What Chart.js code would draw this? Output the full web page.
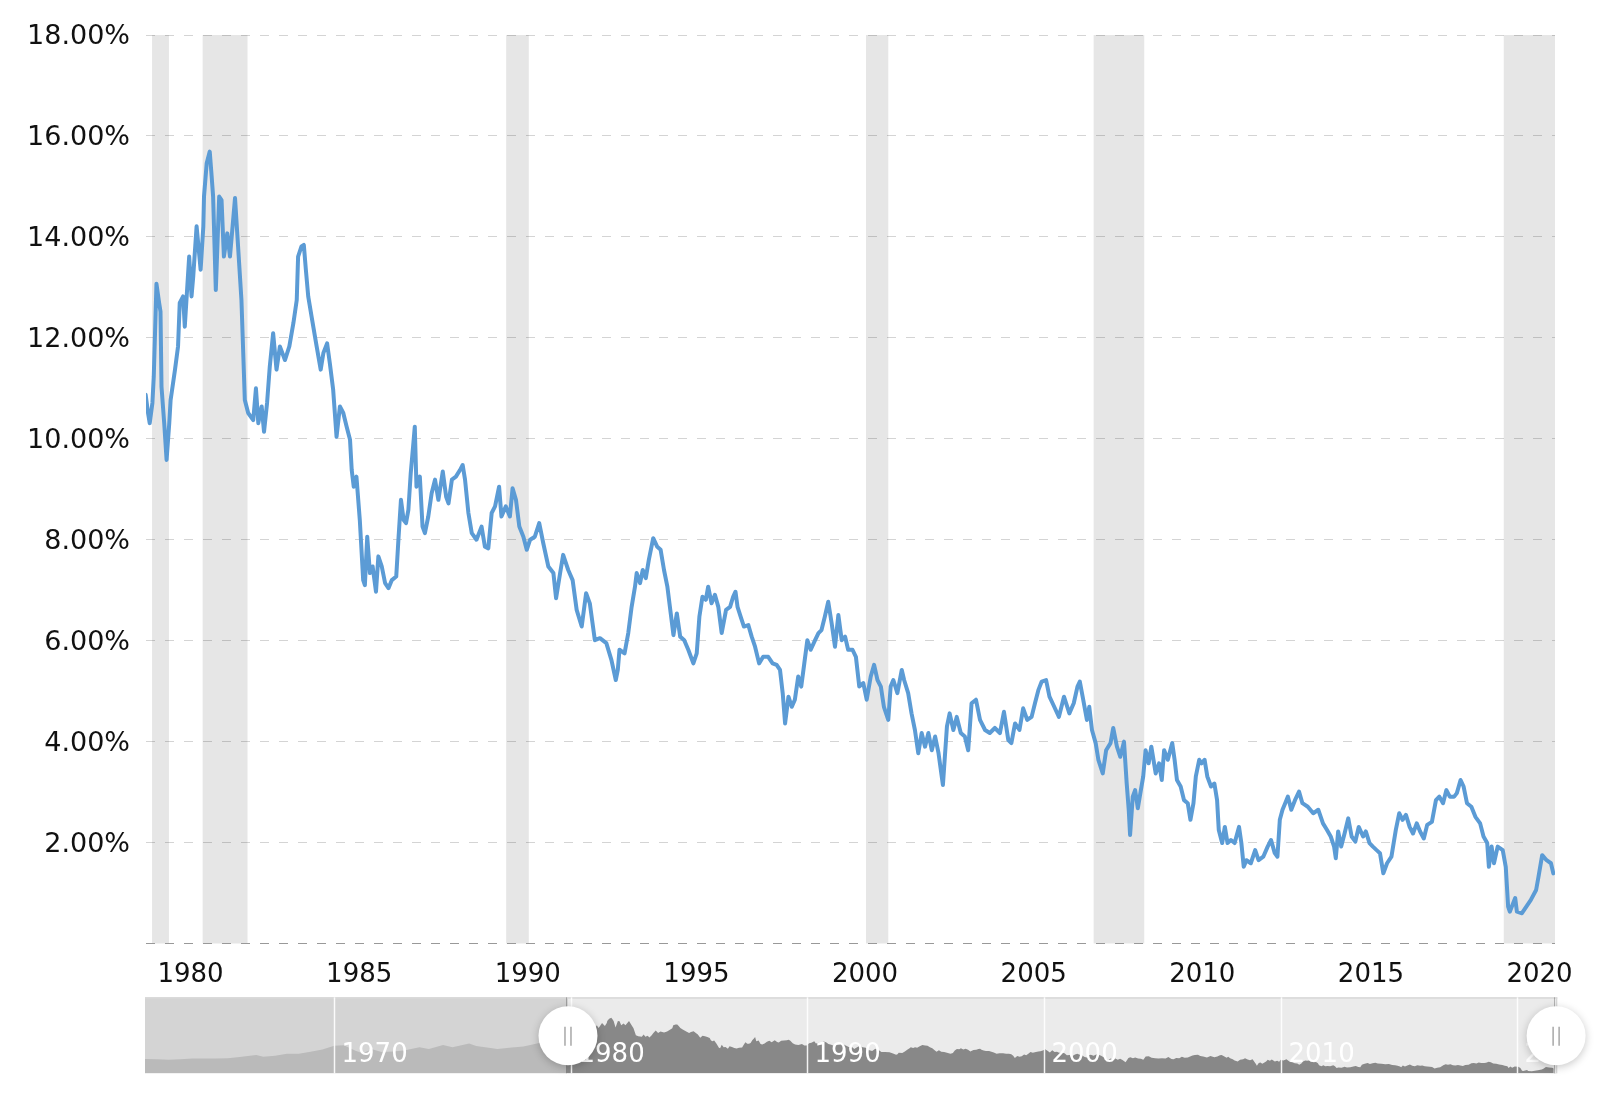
<!DOCTYPE html>
<html>
<head>
<meta charset="utf-8">
<title>10 Year Treasury Rate</title>
<script src="https://cdn.jsdelivr.net/npm/chart.js@4.4.1/dist/chart.umd.min.js"></script>
<style>
  html, body { margin: 0; padding: 0; background: #fff; }
  #wrap { position: relative; width: 1600px; height: 1093px; overflow: hidden; }
  #mainChart { position: absolute; left: 0; top: 0; }
  #navChart { position: absolute; left: 0; top: 990px; }
</style>
</head>
<body>
<div id="wrap">
  <canvas id="mainChart" width="1600" height="995"></canvas>
  <canvas id="navChart" width="1600" height="103"></canvas>
</div>
<script>
// 10 year treasury yield (%), x in decimal years
var dates = [
  1979.81, 1979.88, 1979.93, 1980.01, 1980.05, 1980.13, 1980.21, 1980.25, 1980.28, 1980.36, 1980.43, 1980.51,
  1980.55, 1980.68, 1980.77, 1980.82, 1980.92, 1980.97, 1981.10, 1981.17, 1981.22, 1981.32, 1981.44, 1981.52,
  1981.54, 1981.62, 1981.71, 1981.76, 1981.81, 1981.89, 1981.99, 1982.06, 1982.13, 1982.23, 1982.31, 1982.46,
  1982.55, 1982.65, 1982.75, 1982.85, 1983.00, 1983.08, 1983.15, 1983.25, 1983.32, 1983.41, 1983.49, 1983.59,
  1983.69, 1983.79, 1983.94, 1984.07, 1984.19, 1984.29, 1984.33, 1984.43, 1984.50, 1984.56, 1984.63, 1984.73,
  1984.88, 1985.00, 1985.08, 1985.19, 1985.27, 1985.37, 1985.47, 1985.57, 1985.67, 1985.77, 1985.87, 1985.92,
  1985.98, 1986.06, 1986.16, 1986.26, 1986.31, 1986.38, 1986.46, 1986.54, 1986.64, 1986.71, 1986.81, 1986.91,
  1987.01, 1987.11, 1987.24, 1987.31, 1987.38, 1987.46, 1987.53, 1987.60, 1987.67, 1987.74, 1987.79, 1987.84,
  1987.94, 1988.02, 1988.09, 1988.19, 1988.29, 1988.39, 1988.49, 1988.62, 1988.72, 1988.79, 1988.89, 1989.01,
  1989.13, 1989.21, 1989.28, 1989.38, 1989.48, 1989.62, 1989.77, 1989.87, 1989.97, 1990.07, 1990.17, 1990.29,
  1990.36, 1990.49, 1990.61, 1990.69, 1990.79, 1990.89, 1991.01, 1991.11, 1991.21, 1991.35, 1991.48, 1991.60,
  1991.75, 1991.90, 1991.98, 1992.10, 1992.19, 1992.34, 1992.47, 1992.59, 1992.74, 1992.87, 1992.98, 1993.13,
  1993.28, 1993.47, 1993.62, 1993.75, 1993.81, 1993.86, 1994.01, 1994.12, 1994.22, 1994.32, 1994.37, 1994.47,
  1994.55, 1994.64, 1994.73, 1994.86, 1994.98, 1995.08, 1995.18, 1995.28, 1995.38, 1995.46, 1995.56, 1995.66,
  1995.78, 1995.90, 1996.05, 1996.15, 1996.23, 1996.32, 1996.42, 1996.49, 1996.59, 1996.69, 1996.79, 1996.89,
  1997.02, 1997.14, 1997.23, 1997.30, 1997.36, 1997.45, 1997.55, 1997.68, 1997.78, 1997.88, 1998.00, 1998.12,
  1998.27, 1998.40, 1998.52, 1998.62, 1998.70, 1998.77, 1998.87, 1998.97, 1999.06, 1999.16, 1999.25, 1999.34,
  1999.43, 1999.53, 1999.66, 1999.76, 1999.85, 1999.95, 2000.05, 2000.15, 2000.25, 2000.35, 2000.45, 2000.55,
  2000.64, 2000.77, 2000.87, 2000.97, 2001.09, 2001.19, 2001.31, 2001.41, 2001.51, 2001.61, 2001.70, 2001.83,
  2001.90, 2001.98, 2002.10, 2002.23, 2002.30, 2002.42, 2002.52, 2002.62, 2002.72, 2002.82, 2002.92, 2003.02,
  2003.12, 2003.22, 2003.32, 2003.45, 2003.57, 2003.65, 2003.76, 2003.86, 2003.98, 2004.10, 2004.20, 2004.30,
  2004.43, 2004.55, 2004.70, 2004.84, 2004.99, 2005.14, 2005.26, 2005.39, 2005.48, 2005.59, 2005.72, 2005.83,
  2005.95, 2006.08, 2006.18, 2006.28, 2006.38, 2006.51, 2006.61, 2006.73, 2006.89, 2007.04, 2007.20, 2007.33,
  2007.44, 2007.51, 2007.61, 2007.72, 2007.79, 2007.87, 2007.98, 2008.06, 2008.19, 2008.29, 2008.42, 2008.50,
  2008.61, 2008.71, 2008.82, 2008.90, 2008.96, 2009.00, 2009.08, 2009.15, 2009.23, 2009.32, 2009.39, 2009.46,
  2009.55, 2009.63, 2009.76, 2009.86, 2009.94, 2010.01, 2010.12, 2010.25, 2010.32, 2010.39, 2010.50, 2010.60,
  2010.71, 2010.79, 2010.88, 2010.95, 2011.05, 2011.12, 2011.21, 2011.29, 2011.40, 2011.50, 2011.58, 2011.63,
  2011.73, 2011.81, 2011.89, 2011.99, 2012.10, 2012.23, 2012.30, 2012.37, 2012.45, 2012.58, 2012.71, 2012.81,
  2012.95, 2013.08, 2013.18, 2013.29, 2013.37, 2013.44, 2013.52, 2013.60, 2013.68, 2013.78, 2013.89, 2014.01,
  2014.11, 2014.27, 2014.43, 2014.58, 2014.72, 2014.84, 2014.95, 2015.05, 2015.10, 2015.17, 2015.26, 2015.36,
  2015.47, 2015.57, 2015.68, 2015.78, 2015.91, 2015.99, 2016.10, 2016.20, 2016.31, 2016.41, 2016.51, 2016.62,
  2016.75, 2016.88, 2016.98, 2017.08, 2017.18, 2017.29, 2017.39, 2017.50, 2017.60, 2017.71, 2017.81, 2017.95,
  2018.07, 2018.17, 2018.28, 2018.38, 2018.48, 2018.61, 2018.69, 2018.80, 2018.89, 2018.99, 2019.12, 2019.24,
  2019.38, 2019.48, 2019.59, 2019.64, 2019.72, 2019.79, 2019.90, 2020.05, 2020.14, 2020.21, 2020.26, 2020.42,
  2020.47, 2020.62, 2020.75, 2020.88, 2021.04, 2021.11, 2021.22, 2021.35, 2021.48, 2021.55
];
var yields = [
  10.87, 10.51, 10.31, 10.71, 11.23, 13.07, 12.69, 12.52, 11.03, 10.31, 9.58, 10.31,
  10.77, 11.37, 11.83, 12.69, 12.82, 12.22, 13.61, 12.82, 13.21, 14.21, 13.35, 14.21,
  14.80, 15.46, 15.69, 15.26, 14.80, 12.95, 14.80, 14.73, 13.61, 14.07, 13.61, 14.77,
  13.81, 12.75, 10.77, 10.51, 10.37, 11.00, 10.31, 10.64, 10.14, 10.71, 11.43, 12.09,
  11.37, 11.83, 11.56, 11.83, 12.29, 12.75, 13.61, 13.81, 13.84, 13.35, 12.82, 12.42,
  11.83, 11.37, 11.70, 11.89, 11.50, 10.97, 10.04, 10.64, 10.51, 10.24, 9.98, 9.38,
  9.05, 9.25, 8.39, 7.20, 7.10, 8.06, 7.34, 7.47, 6.97, 7.67, 7.47, 7.14,
  7.04, 7.20, 7.27, 8.06, 8.79, 8.39, 8.33, 8.59, 9.32, 9.85, 10.24, 9.05,
  9.25, 8.26, 8.13, 8.46, 8.92, 9.19, 8.79, 9.35, 8.85, 8.72, 9.19, 9.25,
  9.38, 9.48, 9.19, 8.53, 8.13, 8.00, 8.26, 7.86, 7.83, 8.53, 8.66, 9.05,
  8.46, 8.66, 8.46, 9.02, 8.79, 8.26, 8.06, 7.80, 8.00, 8.06, 8.33, 7.93,
  7.47, 7.34, 6.84, 7.34, 7.70, 7.40, 7.20, 6.61, 6.28, 6.94, 6.74, 6.01,
  6.05, 5.95, 5.62, 5.22, 5.42, 5.82, 5.75, 6.15, 6.67, 7.07, 7.34, 7.14,
  7.40, 7.24, 7.60, 8.03, 7.86, 7.80, 7.40, 7.07, 6.54, 6.11, 6.54, 6.08,
  6.01, 5.82, 5.55, 5.75, 6.48, 6.87, 6.81, 7.07, 6.74, 6.91, 6.67, 6.15,
  6.61, 6.67, 6.87, 6.97, 6.67, 6.48, 6.28, 6.31, 6.08, 5.88, 5.55, 5.68,
  5.68, 5.55, 5.52, 5.42, 4.96, 4.36, 4.89, 4.69, 4.83, 5.29, 5.09, 5.55,
  6.01, 5.82, 6.01, 6.15, 6.21, 6.48, 6.77, 6.35, 5.88, 6.51, 6.01, 6.08,
  5.82, 5.82, 5.68, 5.09, 5.16, 4.83, 5.29, 5.52, 5.22, 5.09, 4.69, 4.43,
  5.09, 5.22, 4.96, 5.42, 5.22, 4.96, 4.56, 4.23, 3.77, 4.17, 3.90, 4.17,
  3.83, 4.10, 3.77, 3.14, 4.30, 4.56, 4.23, 4.49, 4.17, 4.10, 3.83, 4.76,
  4.83, 4.43, 4.23, 4.17, 4.27, 4.17, 4.59, 4.03, 3.97, 4.36, 4.23, 4.66,
  4.43, 4.49, 4.76, 5.02, 5.19, 5.22, 4.89, 4.72, 4.49, 4.89, 4.56, 4.76,
  5.09, 5.19, 4.83, 4.43, 4.69, 4.23, 3.97, 3.64, 3.37, 3.83, 3.97, 4.27,
  3.90, 3.70, 4.00, 3.17, 2.65, 2.15, 2.91, 3.04, 2.68, 3.04, 3.31, 3.83,
  3.57, 3.90, 3.37, 3.57, 3.24, 3.83, 3.64, 3.97, 3.64, 3.24, 3.11, 2.84,
  2.78, 2.45, 2.78, 3.31, 3.64, 3.57, 3.64, 3.31, 3.11, 3.17, 2.84, 2.25,
  1.99, 2.31, 1.99, 2.05, 1.99, 2.31, 1.99, 1.52, 1.65, 1.59, 1.85, 1.65,
  1.72, 1.92, 2.05, 1.79, 1.72, 2.45, 2.65, 2.78, 2.91, 2.65, 2.84, 3.01,
  2.78, 2.71, 2.58, 2.65, 2.38, 2.25, 2.12, 1.92, 1.69, 2.22, 1.92, 2.18,
  2.48, 2.12, 2.02, 2.31, 2.12, 2.22, 1.99, 1.92, 1.85, 1.79, 1.39, 1.59,
  1.72, 2.25, 2.58, 2.45, 2.55, 2.31, 2.18, 2.38, 2.22, 2.08, 2.35, 2.41,
  2.84, 2.91, 2.78, 3.04, 2.91, 2.91, 2.98, 3.24, 3.11, 2.78, 2.71, 2.51,
  2.38, 2.12, 1.99, 1.52, 1.92, 1.59, 1.92, 1.85, 1.52, 0.73, 0.63, 0.90,
  0.63, 0.60, 0.73, 0.86, 1.06, 1.32, 1.75, 1.65, 1.59, 1.39
];

// earlier history, only visible in the navigator strip
var histDates = [
  1962.0, 1962.5, 1963.0, 1963.5, 1964.0, 1964.5, 1965.0, 1965.5, 1966.0, 1966.7, 1967.0, 1967.5,
  1968.0, 1968.5, 1969.0, 1969.5, 1970.0, 1970.4, 1970.9, 1971.2, 1971.6, 1972.0, 1972.5, 1973.0,
  1973.6, 1974.0, 1974.6, 1975.0, 1975.7, 1976.0, 1976.9, 1977.5, 1978.0, 1978.9, 1979.5, 1979.81
];
var histYields = [
  4.08, 3.95, 3.85, 4.00, 4.20, 4.20, 4.20, 4.25, 4.60, 5.20, 4.70, 5.00,
  5.50, 5.50, 6.10, 6.70, 7.80, 7.90, 6.40, 5.70, 6.80, 6.00, 6.20, 6.50,
  7.40, 6.90, 8.00, 7.40, 8.40, 7.70, 6.90, 7.30, 7.60, 8.90, 8.90, 10.87
];

// recessions (shaded)
var recessionStart = [1980.00, 1981.50, 1990.50, 2001.17, 2007.92, 2020.08];
var recessionEnd   = [1980.50, 1982.83, 1991.17, 2001.83, 2009.42, 2021.60];

var yearTicks = [1980, 1985, 1990, 1995, 2000, 2005, 2010, 2015, 2020];
var rateTicks = [0, 2, 4, 6, 8, 10, 12, 14, 16, 18];
var navYearTicks = [1970, 1980, 1990, 2000, 2010, 2020];
var rangeFrom = 1979.88, rangeTo = 2021.65;

var lineColor = '#5b9bd5';
var fontFamily = 'DejaVu Sans, Verdana, sans-serif';

function toPoints(xs, ys) {
  return xs.map(function(x, i) { return { x: x, y: ys[i] }; });
}

var recessionBands = {
  id: 'recessionBands',
  beforeDraw: function(chart) {
    var ctx = chart.ctx, area = chart.chartArea, x = chart.scales.x;
    ctx.save();
    ctx.fillStyle = '#e6e6e6';
    for (var i = 0; i < recessionStart.length; i++) {
      var x1 = x.getPixelForValue(recessionStart[i]);
      var x2 = Math.min(x.getPixelForValue(recessionEnd[i]), area.right);
      ctx.fillRect(x1, area.top, x2 - x1, area.bottom - area.top);
    }
    ctx.restore();
  }
};

var mainChart = new Chart(document.getElementById('mainChart'), {
  type: 'line',
  data: {
    datasets: [{
      data: toPoints(dates, yields),
      borderColor: lineColor,
      borderWidth: 4,
      borderJoinStyle: 'round',
      borderCapStyle: 'round',
      pointRadius: 0,
      tension: 0,
      fill: false
    }]
  },
  options: {
    responsive: false,
    animation: false,
    layout: { padding: { top: 35, right: 45, left: 0, bottom: 0 } },
    plugins: { legend: { display: false }, tooltip: { enabled: false } },
    scales: {
      x: {
        type: 'linear',
        min: 1979.82,
        max: 2021.6,
        afterBuildTicks: function(scale) {
          scale.ticks = yearTicks.map(function(v) { return { value: v }; });
        },
        afterFit: function(scale) { scale.height = 51.5; },
        ticks: {
          font: { family: fontFamily, size: 26 },
          color: '#111',
          padding: 8,
          labelOffset: 38.5,
          autoSkip: false,
          maxRotation: 0,
          callback: function(v) { return String(v); }
        },
        grid: { display: false },
        border: { display: false }
      },
      y: {
        min: 0,
        max: 18,
        afterBuildTicks: function(scale) {
          scale.ticks = rateTicks.map(function(v) { return { value: v }; });
        },
        afterFit: function(scale) { scale.width = 146; },
        ticks: {
          font: { family: fontFamily, size: 27 },
          color: '#111',
          padding: 16,
          labelOffset: 2,
          callback: function(v) { return v === 0 ? '' : v.toFixed(2) + '%'; }
        },
        grid: {
          drawTicks: false,
          lineWidth: 1,
          color: function(c) {
            return c.tick && c.tick.value === 0 ? '#999999' : 'rgba(0,0,0,0.17)';
          }
        },
        border: { display: false, dash: [9, 10] }
      }
    }
  },
  plugins: [recessionBands]
});

// navigator strip under the chart
var navigatorDecor = {
  id: 'navigatorDecor',
  beforeDraw: function(chart) {
    var ctx = chart.ctx, a = chart.chartArea, x = chart.scales.x;
    var s = x.getPixelForValue(rangeFrom), e = x.getPixelForValue(rangeTo);
    ctx.save();
    ctx.fillStyle = '#d4d4d4';
    ctx.fillRect(a.left, a.top, a.right - a.left, a.bottom - a.top);
    ctx.fillStyle = '#ebebeb';
    ctx.fillRect(s, a.top, e - s, a.bottom - a.top);
    ctx.restore();
  },
  afterDatasetsDraw: function(chart) {
    var ctx = chart.ctx, a = chart.chartArea, x = chart.scales.x;
    ctx.save();
    // top outline
    ctx.strokeStyle = '#d8d8d8';
    ctx.lineWidth = 1.5;
    ctx.beginPath();
    ctx.moveTo(a.left, a.top + 0.75);
    ctx.lineTo(a.right, a.top + 0.75);
    ctx.stroke();
    // decade lines and labels
    ctx.strokeStyle = 'rgba(255,255,255,0.9)';
    ctx.lineWidth = 1.5;
    ctx.fillStyle = '#ffffff';
    ctx.font = '26px ' + fontFamily;
    ctx.textBaseline = 'alphabetic';
    ctx.textAlign = 'left';
    navYearTicks.forEach(function(v) {
      var px = Math.round(x.getPixelForValue(v)) + 0.5;
      ctx.beginPath();
      ctx.moveTo(px, a.top);
      ctx.lineTo(px, a.bottom);
      ctx.stroke();
      ctx.fillText(String(v), px + 7, a.top + 65);
    });
    // range edges
    ctx.strokeStyle = 'rgba(0,0,0,0.25)';
    ctx.lineWidth = 1;
    [rangeFrom, rangeTo].forEach(function(v) {
      var px = Math.round(x.getPixelForValue(v)) - 1.5;
      ctx.beginPath();
      ctx.moveTo(px, a.top);
      ctx.lineTo(px, a.bottom);
      ctx.stroke();
    });
    // handles
    var cy = (a.top + a.bottom) / 2 + 0.5;
    [rangeFrom, rangeTo].forEach(function(v) {
      var cx = x.getPixelForValue(v);
      ctx.save();
      ctx.shadowColor = 'rgba(0,0,0,0.22)';
      ctx.shadowBlur = 8;
      ctx.shadowOffsetY = 2;
      ctx.fillStyle = '#ffffff';
      ctx.beginPath();
      ctx.arc(cx, cy, 29.5, 0, Math.PI * 2);
      ctx.fill();
      ctx.restore();
      ctx.strokeStyle = '#a8a8a8';
      ctx.lineWidth = 1.5;
      ctx.beginPath();
      ctx.moveTo(cx - 3, cy - 9);
      ctx.lineTo(cx - 3, cy + 10);
      ctx.moveTo(cx + 3, cy - 9);
      ctx.lineTo(cx + 3, cy + 10);
      ctx.stroke();
    });
    ctx.restore();
  }
};

var navChart = new Chart(document.getElementById('navChart'), {
  type: 'line',
  data: {
    datasets: [{
      data: toPoints(histDates, histYields),
      borderWidth: 0,
      pointRadius: 0,
      fill: 'origin',
      backgroundColor: '#bababa'
    }, {
      data: toPoints(dates, yields),
      borderWidth: 0,
      pointRadius: 0,
      fill: 'origin',
      backgroundColor: '#888888'
    }]
  },
  options: {
    responsive: false,
    animation: false,
    layout: { padding: { left: 145, right: 42.7, top: 7.3, bottom: 19.7 } },
    plugins: { legend: { display: false }, tooltip: { enabled: false } },
    scales: {
      x: { type: 'linear', min: 1962.0, max: 2021.7, display: false },
      y: { min: 0, max: 21.5, display: false }
    }
  },
  plugins: [navigatorDecor]
});
</script>
</body>
</html>
